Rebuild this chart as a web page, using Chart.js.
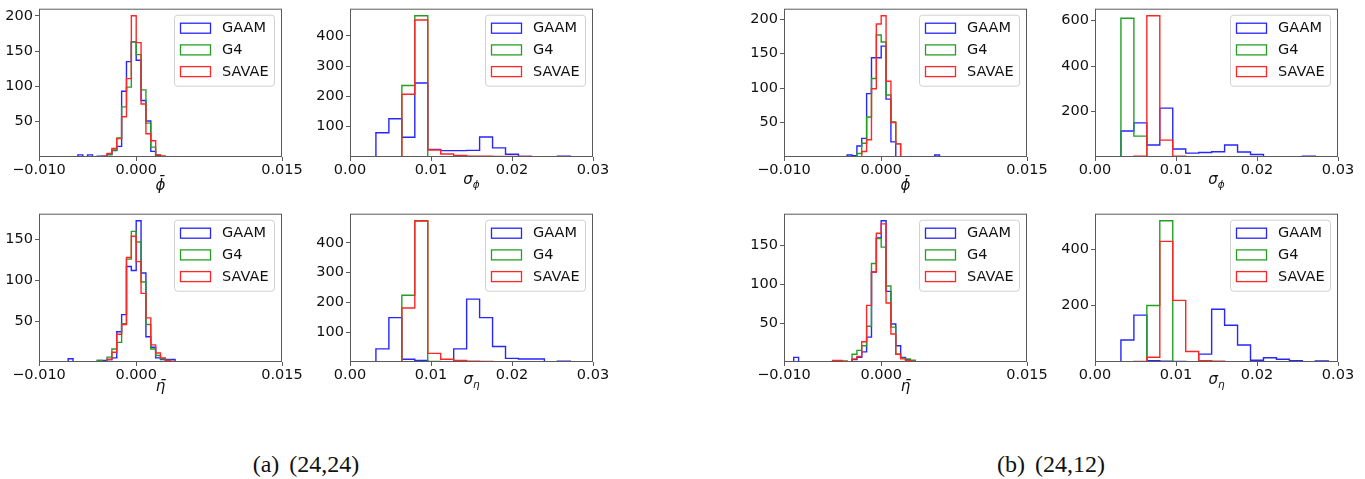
<!DOCTYPE html>
<html>
<head>
<meta charset="utf-8">
<script src="https://cdn.jsdelivr.net/npm/chart.js@4.4.1/dist/chart.umd.min.js"></script>
<style>
  body { margin: 0; width: 1365px; height: 479px; background: #fff; position: relative; overflow: hidden; }
  canvas { position: absolute; }
  .xlabel { position: absolute; font: italic 15px "DejaVu Sans"; line-height: 15px; transform: translateX(-50%); white-space: nowrap; color: #111; }
  .xlabel .sub { font-size: 10.5px; position: relative; top: 4px; }
  .caption { position: absolute; font: 24px "Liberation Serif"; line-height: 24px; word-spacing: 4px; transform: translateX(-50%); white-space: nowrap; color: #111; }
</style>
</head>
<body>
<script>
// bin edges shared by all series of a panel
const barEdges = [
  -0.0100, -0.0095, -0.0090, -0.0085, -0.0080, -0.0075, -0.0070, -0.0065, -0.0060, -0.0055,
  -0.0050, -0.0045, -0.0040, -0.0035, -0.0030, -0.0025, -0.0020, -0.0015, -0.0010, -0.0005,
  0.0000, 0.0005, 0.0010, 0.0015, 0.0020, 0.0025, 0.0030, 0.0035, 0.0040, 0.0045,
  0.0050, 0.0055, 0.0060, 0.0065, 0.0070, 0.0075, 0.0080, 0.0085, 0.0090, 0.0095, 0.0100,
];
const sigmaEdges = [
  0.0000, 0.0016, 0.0032, 0.0048, 0.0064, 0.0080, 0.0096, 0.0112, 0.0128, 0.0144,
  0.0160, 0.0176, 0.0192, 0.0208, 0.0224, 0.0240, 0.0256, 0.0272, 0.0288, 0.0304, 0.0320,
];

const seriesNames = ["GAAM", "G4", "SAVAE"];

// (a) (24,24)
const phiA_gaam = [
  0, 0, 0, 0, 0, 0, 0, 0, 3, 0,
  3, 0, 1, 1, 4, 9, 15, 93, 135, 163,
  137, 80, 51, 8, 2, 0, 0, 0, 0, 0,
  0, 0, 0, 0, 0, 0, 0, 0, 0, 0,
];
const phiA_g4 = [
  0, 0, 0, 0, 0, 0, 0, 0, 0, 0,
  0, 0, 0, 0, 3, 10, 27, 71, 99, 163,
  145, 95, 48, 14, 3, 1, 0, 0, 0, 0,
  0, 0, 0, 0, 0, 0, 0, 0, 0, 0,
];
const phiA_savae = [
  0, 0, 0, 0, 0, 0, 0, 0, 0, 0,
  0, 0, 0, 1, 5, 12, 26, 57, 111, 200,
  162, 75, 33, 23, 3, 1, 0, 0, 0, 0,
  0, 0, 0, 0, 0, 0, 0, 0, 0, 0,
];
const sigPhiA_gaam = [0, 0, 80, 126, 65, 244, 25, 21, 21, 22, 66, 30, 9, 2, 1, 0, 3, 0, 0, 0];
const sigPhiA_g4 = [0, 0, 0, 0, 236, 466, 0, 0, 0, 0, 0, 0, 0, 0, 0, 0, 0, 0, 0, 0];
const sigPhiA_savae = [0, 0, 0, 0, 207, 452, 23, 10, 5, 3, 3, 2, 2, 2, 0, 0, 0, 0, 0, 0];

const etaA_gaam = [
  0, 0, 0, 0, 0, 0, 4, 0, 0, 0,
  0, 0, 2, 2, 3, 5, 37, 58, 117, 112,
  173, 109, 31, 18, 5, 3, 3, 3, 0, 0,
  0, 0, 0, 0, 0, 0, 0, 0, 0, 0,
];
const etaA_g4 = [
  0, 0, 0, 0, 0, 0, 0, 0, 0, 0,
  0, 0, 2, 0, 6, 16, 24, 47, 126, 160,
  147, 98, 46, 16, 8, 4, 2, 0, 0, 0,
  0, 0, 0, 0, 0, 0, 0, 0, 0, 0,
];
const etaA_savae = [
  0, 0, 0, 0, 0, 0, 0, 0, 0, 0,
  0, 0, 0, 0, 3, 12, 34, 46, 128, 154,
  123, 84, 54, 21, 11, 5, 2, 1, 0, 0,
  0, 0, 0, 0, 0, 0, 0, 0, 0, 0,
];
const sigEtaA_gaam = [0, 0, 44, 149, 9, 5, 1, 1, 44, 211, 149, 52, 12, 10, 10, 0, 3, 0, 0, 0];
const sigEtaA_g4 = [0, 0, 0, 0, 224, 473, 2, 0, 0, 0, 0, 0, 0, 0, 0, 0, 0, 0, 0, 0];
const sigEtaA_savae = [0, 0, 0, 0, 181, 474, 29, 9, 5, 3, 2, 1, 0, 0, 0, 0, 0, 0, 0, 0];

// (b) (24,12)
const phiB_gaam = [
  0, 0, 0, 0, 0, 0, 0, 0, 0, 0,
  0, 0, 0, 3, 2, 16, 27, 92, 144, 144,
  161, 84, 22, 0, 0, 0, 0, 0, 0, 0,
  0, 3, 0, 0, 0, 0, 0, 0, 0, 0,
];
const phiB_g4 = [
  0, 0, 0, 0, 0, 0, 0, 0, 0, 0,
  0, 0, 0, 0, 0, 5, 20, 58, 114, 177,
  167, 90, 51, 19, 0, 0, 0, 0, 0, 0,
  0, 0, 0, 0, 0, 0, 0, 0, 0, 0,
];
const phiB_savae = [
  0, 0, 0, 0, 0, 0, 0, 0, 0, 0,
  0, 0, 0, 0, 0, 0, 8, 25, 99, 193,
  205, 110, 50, 19, 0, 0, 0, 0, 0, 0,
  0, 0, 0, 0, 0, 0, 0, 0, 0, 0,
];
const sigPhiB_gaam = [0, 0, 114, 150, 53, 215, 35, 17, 20, 23, 53, 22, 11, 1, 1, 0, 4, 0, 0, 0];
const sigPhiB_g4 = [0, 0, 610, 92, 0, 0, 0, 0, 0, 0, 0, 0, 0, 0, 0, 0, 0, 0, 0, 0];
const sigPhiB_savae = [0, 0, 0, 4, 621, 74, 3, 0, 0, 0, 0, 0, 0, 0, 0, 0, 0, 0, 0, 0];

const etaB_gaam = [
  0, 0, 6, 0, 0, 0, 0, 0, 0, 0,
  1, 1, 0, 0, 3, 6, 13, 32, 116, 160,
  182, 91, 49, 21, 6, 3, 2, 0, 0, 0,
  0, 0, 0, 0, 0, 0, 0, 0, 0, 0,
];
const etaB_g4 = [
  0, 0, 0, 0, 0, 0, 0, 0, 0, 0,
  0, 1, 1, 0, 10, 15, 21, 46, 127, 159,
  148, 98, 45, 10, 5, 4, 2, 0, 0, 0,
  0, 0, 0, 0, 0, 0, 0, 0, 0, 0,
];
const etaB_savae = [
  0, 0, 0, 0, 0, 0, 0, 0, 0, 0,
  2, 2, 1, 0, 4, 7, 26, 73, 116, 166,
  178, 76, 36, 10, 4, 2, 1, 0, 0, 0,
  0, 0, 0, 0, 0, 0, 0, 0, 0, 0,
];
const sigEtaB_gaam = [0, 0, 78, 166, 5, 3, 2, 1, 28, 187, 130, 60, 6, 15, 10, 5, 1, 4, 0, 0];
const sigEtaB_g4 = [0, 0, 0, 1, 200, 500, 0, 0, 0, 0, 0, 0, 0, 0, 0, 0, 0, 0, 0, 0];
const sigEtaB_savae = [0, 0, 0, 2, 17, 427, 218, 37, 5, 3, 1, 1, 0, 0, 0, 0, 0, 0, 0, 0];

// axis ticks
const barXTicks = [-0.01, 0, 0.015];
const barXLabels = ["\u22120.010", "0.000", "0.015"];
const sigmaXTicks = [0, 0.01, 0.02, 0.03];
const sigmaXLabels = ["0.00", "0.01", "0.02", "0.03"];
const phiA_yTicks = [50, 100, 150, 200];
const sigPhiA_yTicks = [100, 200, 300, 400];
const etaA_yTicks = [50, 100, 150];
const sigEtaA_yTicks = [100, 200, 300, 400];
const phiB_yTicks = [50, 100, 150, 200];
const sigPhiB_yTicks = [200, 400, 600];
const etaB_yTicks = [50, 100, 150];
const sigEtaB_yTicks = [200, 400];

const colors = ["#2626ff", "#23a023", "#ff2626"];
const PLOT_W = 243;
const PLOT_H = 149;
const PAD_LEFT = 50;
const PAD_RIGHT = 30;
const PAD_TOP = 10;
const PAD_BOTTOM = 26;
const FRAME = "#5a5a5a";
const TEXT = "#111";
const FONT_SIZE = 14.5;

const PHI_BAR = "<i>\u03d5\u0304</i>";
const ETA_BAR = "<i>\u03b7\u0304</i>";
const SIG_PHI = "<i>\u03c3</i><i class=\"sub\">\u03d5</i>";
const SIG_ETA = "<i>\u03c3</i><i class=\"sub\">\u03b7</i>";

const bar = { edges: barEdges, min: -0.01, max: 0.015, xTicks: barXTicks, xLabels: barXLabels };
const sig = { edges: sigmaEdges, min: 0, max: 0.03, xTicks: sigmaXTicks, xLabels: sigmaXLabels };

const panels = [
  { ...bar, left: 39, top: 8, series: [phiA_gaam, phiA_g4, phiA_savae], yTicks: phiA_yTicks, label: PHI_BAR, labelTop: 178 },
  { ...sig, left: 350, top: 8, series: [sigPhiA_gaam, sigPhiA_g4, sigPhiA_savae], yTicks: sigPhiA_yTicks, label: SIG_PHI, labelTop: 172 },
  { ...bar, left: 39, top: 213, series: [etaA_gaam, etaA_g4, etaA_savae], yTicks: etaA_yTicks, label: ETA_BAR, labelTop: 379 },
  { ...sig, left: 350, top: 213, series: [sigEtaA_gaam, sigEtaA_g4, sigEtaA_savae], yTicks: sigEtaA_yTicks, label: SIG_ETA, labelTop: 372 },
  { ...bar, left: 784, top: 8, series: [phiB_gaam, phiB_g4, phiB_savae], yTicks: phiB_yTicks, label: PHI_BAR, labelTop: 178 },
  { ...sig, left: 1095, top: 8, series: [sigPhiB_gaam, sigPhiB_g4, sigPhiB_savae], yTicks: sigPhiB_yTicks, label: SIG_PHI, labelTop: 172 },
  { ...bar, left: 784, top: 213, series: [etaB_gaam, etaB_g4, etaB_savae], yTicks: etaB_yTicks, label: ETA_BAR, labelTop: 379 },
  { ...sig, left: 1095, top: 213, series: [sigEtaB_gaam, sigEtaB_g4, sigEtaB_savae], yTicks: sigEtaB_yTicks, label: SIG_ETA, labelTop: 372 },
];

const captions = [
  { text: "(a) (24,24)", center: 306 },
  { text: "(b) (24,12)", center: 1051 },
];

// outline of a step histogram: up at the first edge, across each bin, down at the last edge
function stepPoints(edges, counts) {
  const points = [{ x: edges[0], y: 0 }];
  counts.forEach((count, i) => points.push({ x: edges[i], y: count }));
  points.push({ x: edges[counts.length], y: 0 });
  return points;
}

const framePlugin = {
  id: "frame",
  afterDatasetsDraw(chart) {
    const { ctx, chartArea: a } = chart;
    ctx.save();
    ctx.strokeStyle = FRAME;
    ctx.lineWidth = 1;
    ctx.strokeRect(a.left + 0.5, a.top + 0.5, a.right - a.left - 1, a.bottom - a.top - 1);
    ctx.restore();
  },
};

const legendPlugin = {
  id: "boxLegend",
  afterDraw(chart) {
    const { ctx, chartArea: a } = chart;
    const w = 100;
    const h = 71;
    const x = a.right - 7.5 - w;
    const y = a.top + 6.5;
    ctx.save();
    ctx.beginPath();
    ctx.roundRect(x, y, w, h, 3);
    ctx.fillStyle = "rgba(255,255,255,0.8)";
    ctx.fill();
    ctx.strokeStyle = "#d0d0d0";
    ctx.lineWidth = 1;
    ctx.stroke();
    ctx.font = `${FONT_SIZE}px 'DejaVu Sans'`;
    ctx.textBaseline = "middle";
    ctx.fillStyle = TEXT;
    chart.data.datasets.forEach((dataset, i) => {
      const cy = y + 13 + i * 21.7;
      ctx.strokeStyle = dataset.borderColor;
      ctx.lineWidth = 1.3;
      ctx.strokeRect(x + 6, cy - 5, 30, 10);
      ctx.fillText(dataset.label, x + 47.5, cy + 0.5);
    });
    ctx.restore();
  },
};

function makePanel(panel) {
  const canvas = document.createElement("canvas");
  canvas.width = PLOT_W + PAD_LEFT + PAD_RIGHT;
  canvas.height = PLOT_H + PAD_TOP + PAD_BOTTOM;
  canvas.style.left = `${panel.left - PAD_LEFT}px`;
  canvas.style.top = `${panel.top - PAD_TOP}px`;
  canvas.style.width = `${canvas.width}px`;
  canvas.style.height = `${canvas.height}px`;
  document.body.append(canvas);

  const yMax = 1.05 * Math.max(...panel.series.flat());
  const tickFont = { family: "DejaVu Sans", size: FONT_SIZE };
  const grid = { drawOnChartArea: false, drawTicks: true, tickLength: 4, tickColor: FRAME, tickWidth: 1 };

  new Chart(canvas, {
    type: "line",
    data: {
      datasets: panel.series.map((counts, i) => ({
        label: seriesNames[i],
        data: stepPoints(panel.edges, counts),
        borderColor: colors[i],
        borderWidth: 1.4,
        pointRadius: 0,
        stepped: true,
        fill: false,
        order: 2 - i,
      })),
    },
    options: {
      responsive: false,
      animation: false,
      devicePixelRatio: 1,
      layout: { padding: { left: 0, top: PAD_TOP, right: PAD_RIGHT, bottom: 0 } },
      plugins: { legend: { display: false }, tooltip: { enabled: false } },
      scales: {
        x: {
          type: "linear",
          min: panel.min,
          max: panel.max,
          afterBuildTicks: (scale) => { scale.ticks = panel.xTicks.map((value) => ({ value })); },
          afterFit: (scale) => { scale.height = PAD_BOTTOM; },
          ticks: {
            callback: (value, index) => panel.xLabels[index],
            font: tickFont,
            color: TEXT,
            padding: 1,
            maxRotation: 0,
            autoSkip: false,
          },
          grid,
          border: { display: false },
        },
        y: {
          type: "linear",
          min: 0,
          max: yMax,
          afterBuildTicks: (scale) => { scale.ticks = panel.yTicks.map((value) => ({ value })); },
          afterFit: (scale) => { scale.width = PAD_LEFT; },
          ticks: { font: tickFont, color: TEXT, padding: 2, autoSkip: false },
          grid,
          border: { display: false },
        },
      },
    },
    plugins: [framePlugin, legendPlugin],
  });

  const label = document.createElement("div");
  label.className = "xlabel";
  label.innerHTML = panel.label;
  label.style.left = `${panel.left + PLOT_W / 2}px`;
  label.style.top = `${panel.labelTop}px`;
  document.body.append(label);
}

panels.forEach(makePanel);

captions.forEach((caption) => {
  const div = document.createElement("div");
  div.className = "caption";
  div.textContent = caption.text;
  div.style.left = `${caption.center}px`;
  div.style.top = "452px";
  document.body.append(div);
});
</script>
</body>
</html>
